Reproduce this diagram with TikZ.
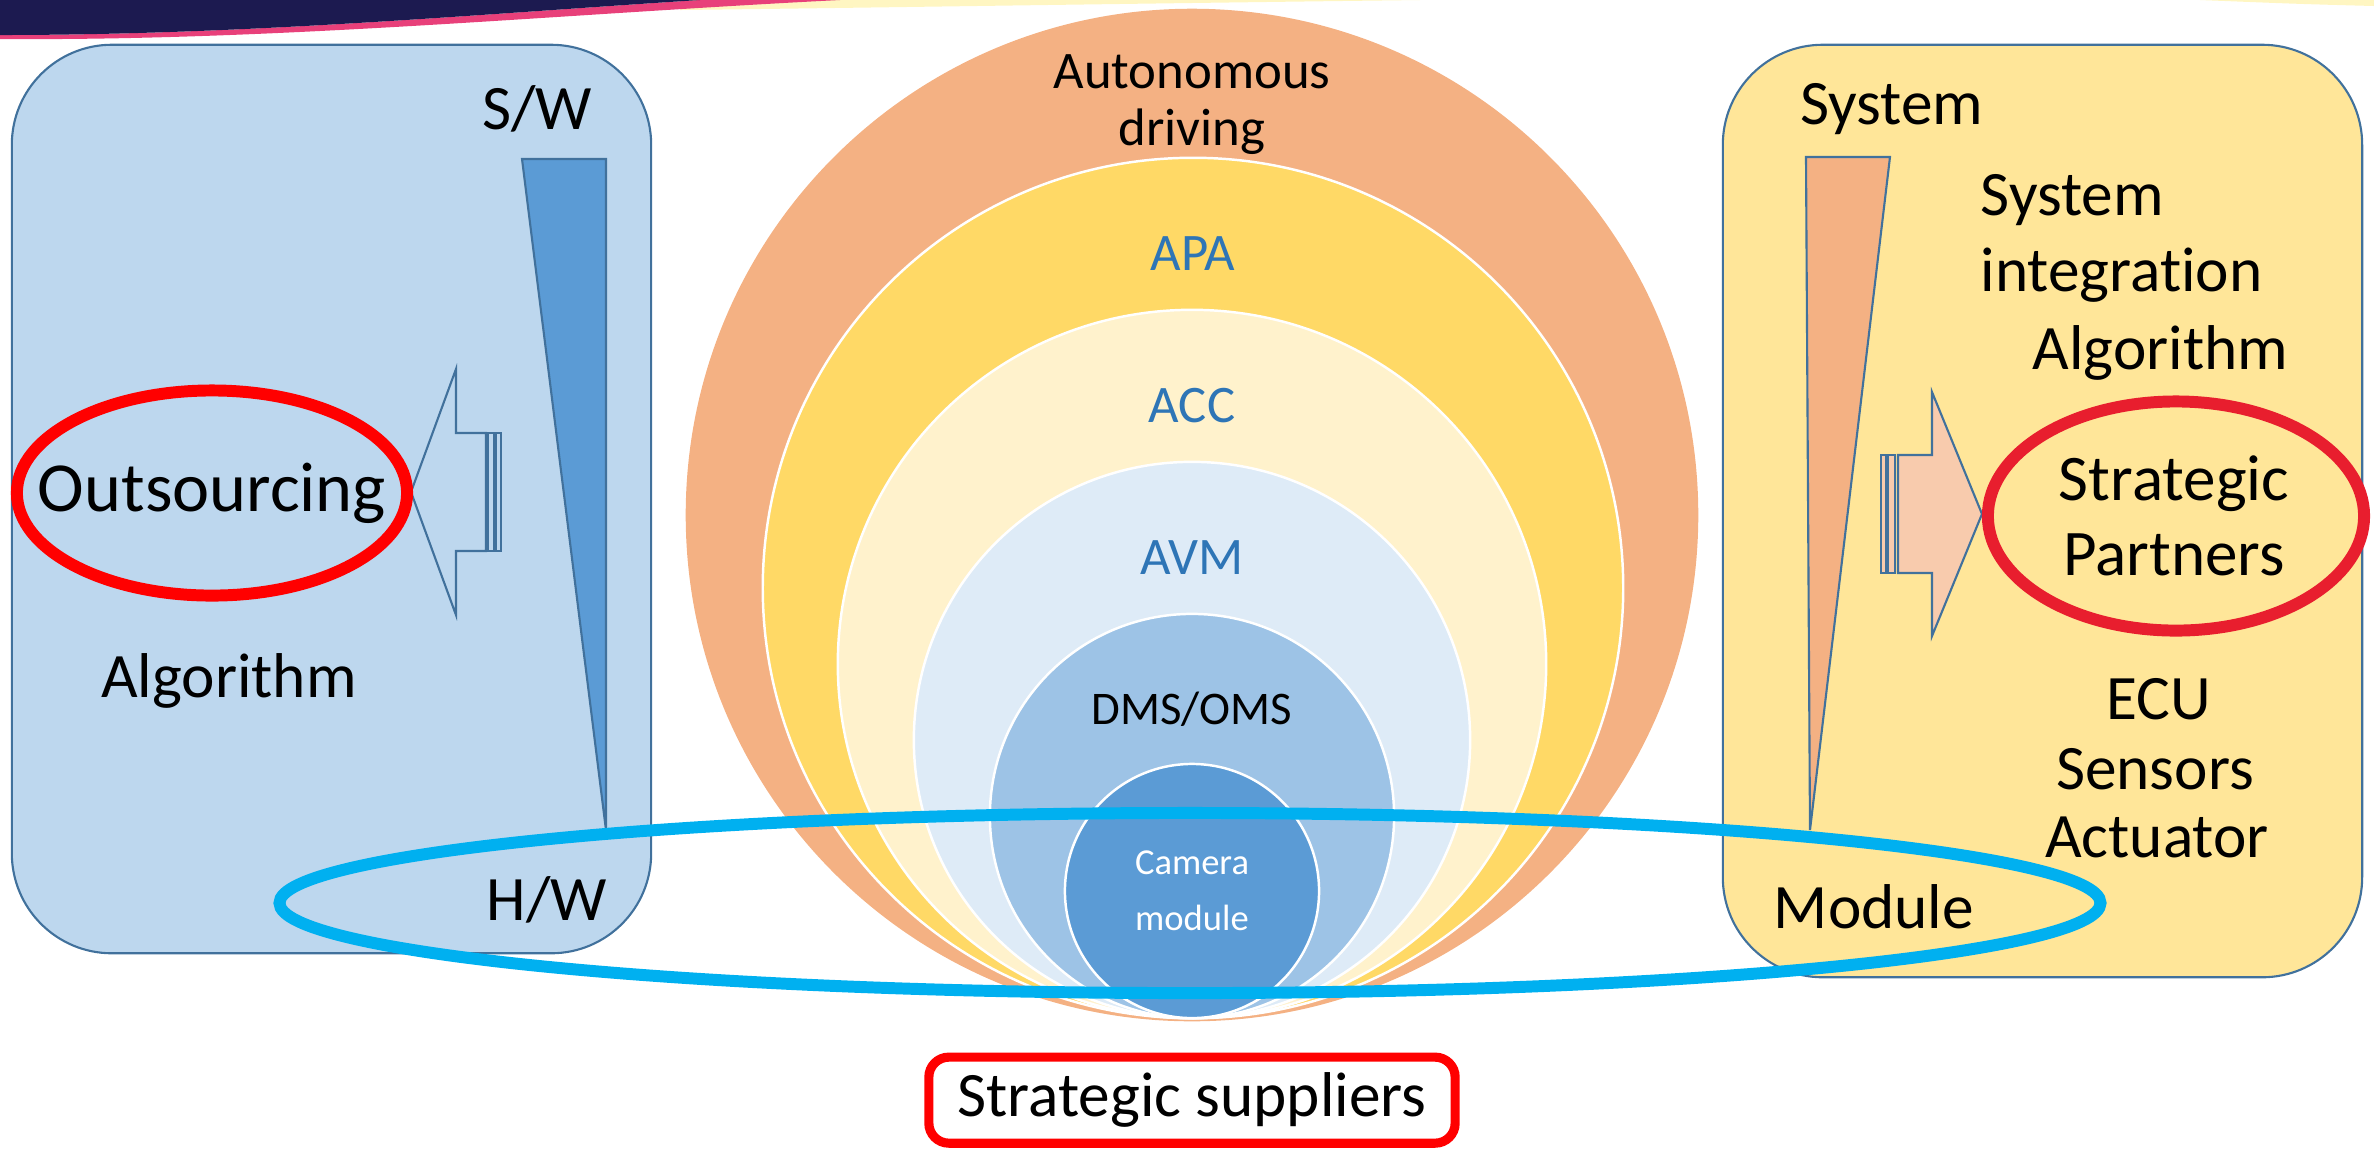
\documentclass[tikz,border=0pt]{standalone}
\usepackage{fontspec}
\setmainfont{Carlito}[Ligatures=NoCommon]
\usepackage{tikz}
\usetikzlibrary{positioning,shapes.geometric}
\definecolor{SlideNavy}{HTML}{1C1A50}
\definecolor{SlideRose}{HTML}{E8407A}
\definecolor{SlideGlow}{HTML}{FFF6C2}
\definecolor{PanelBlue}{HTML}{BDD7EE}
\definecolor{PanelGold}{HTML}{FFE699}
\definecolor{PanelEdge}{HTML}{41719C}
\definecolor{TriBlue}{HTML}{5B9BD5}
\definecolor{TriOrange}{HTML}{F4B183}
\definecolor{ArrowPeach}{HTML}{F8CBAD}
\definecolor{RingOrange}{HTML}{F4B183}
\definecolor{RingGold}{HTML}{FFD966}
\definecolor{RingCream}{HTML}{FFF2CC}
\definecolor{RingIce}{HTML}{DEEBF7}
\definecolor{RingSky}{HTML}{9DC3E6}
\definecolor{RingBlue}{HTML}{5B9BD5}
\definecolor{LabelBlue}{HTML}{2E75B6}
\definecolor{HWCyan}{HTML}{00B0F0}
\definecolor{MarkRed}{HTML}{FF0000}
\definecolor{PartnerRed}{HTML}{E81E2E}

\begin{document}
\begin{tikzpicture}[x=0.01cm, y=-0.01cm,
    panel/.style={draw=PanelEdge, line width=0.6pt, rounded corners=1cm, inner sep=0pt},
    wedge/.style={draw=PanelEdge, line width=0.6pt},
    ring/.style={circle, draw=white, line width=0.7pt, inner sep=0pt},
    big/.style={font=\fontsize{18}{21}\selectfont, inner sep=0pt, align=center},
    ringlbl/.style={font=\fontsize{15}{16}\selectfont, text=LabelBlue, inner sep=0pt, align=center},
    redoval/.style={ellipse, draw=MarkRed, line width=3.4pt, inner sep=0pt},
    hwloop/.style={ellipse, draw=HWCyan, line width=3.4pt, inner sep=0pt},
    supbox/.style={draw=MarkRed, fill=white, line width=2.6pt, rounded corners=0.2cm,
      minimum width=5.26cm, minimum height=0.86cm, big}
  ]
    \useasboundingbox (0,0) rectangle (2374,1150);
    % slide header swoosh
    \fill[SlideGlow] (680,0) -- (1420,0) .. controls (1100,4) and (850,8) .. (680,10) -- cycle;
    \fill[SlideGlow] (2200,0) -- (2374,0) -- (2374,6) .. controls (2300,4) .. (2200,0) -- cycle;
    \fill[SlideRose] (0,39) .. controls (280,41) and (560,14) .. (840,0) -- (700,0) .. controls (480,14) and (250,35) .. (0,35) -- cycle;
    \fill[SlideNavy] (0,0) -- (700,0) .. controls (480,14) and (250,35) .. (0,35) -- cycle;

    % left panel
    \node[panel, fill=PanelBlue, minimum width=6.39cm, minimum height=9.08cm] (swpanel) at (331.5,499) {};
    \draw[wedge, fill=TriBlue] (522,159) -- (606,159) -- (606,830) -- cycle;
    \node[big] (sw) at (537,109) {S/W};
    \node[big] (hw) at (547,900) {H/W};
    \node[big] (algoleft) at (229,681) {Algorithm};
    \draw[wedge, fill=PanelBlue] (411,492) -- (456,369) -- (456,433) -- (486,433) -- (486,551) -- (456,551) -- (456,615) -- cycle;
    \draw[wedge] (488,433) rectangle (494,551);
    \draw[wedge] (496,433) rectangle (501,551);
    \node[redoval, minimum width=3.9cm, minimum height=2.05cm] (outsrc) at (212,493) {};
    \node[big, font=\fontsize{20}{24}\selectfont] (outsrclbl) at (outsrc) {Outsourcing};

    % right panel
    \node[panel, fill=PanelGold, minimum width=6.39cm, minimum height=9.32cm] (syspanel) at (2042.5,511) {};
    \draw[wedge, fill=TriOrange] (1806,157) -- (1890,157) -- (1810,830) -- cycle;
    \node[big] (system) at (1892,109) {System};
    \node[big] (module) at (1874,907) {Module};
    \node[big, anchor=west] (sysint) at (1980,200) {System};
    \node[big, anchor=west] (integ) at (1980,275) {integration};
    \node[big, anchor=west] (algoright) at (2032,353) {Algorithm};
    \node[big] (ecu) at (2159,699) {ECU};
    \node[big] (sensors) at (2155,769) {Sensors};
    \node[big] (actuator) at (2157,837) {Actuator};
    \draw[wedge, fill=ArrowPeach] (1982,514) -- (1932,636) -- (1932,573) -- (1898,573) -- (1898,455) -- (1932,455) -- (1932,392) -- cycle;
    \draw[wedge, fill=ArrowPeach] (1881,455) rectangle (1886,573);
    \draw[wedge, fill=ArrowPeach] (1888,455) rectangle (1895,573);
    \node[redoval, draw=PartnerRed, minimum width=3.76cm, minimum height=2.29cm] (partners) at (2176,516) {};
    \node[big, font=\fontsize{18.5}{21.5}\selectfont] (partnerslbl) at ([xshift=-0.02cm]partners) {Strategic\\Partners};

    % nested application rings
    \node[ring, draw=none, fill=RingOrange, minimum size=10.12cm] (adrive) at (1192,515) {};
    \node[ring, fill=RingGold, minimum size=8.6cm] (apa) at (1193,588) {};
    \node[ring, fill=RingCream, minimum size=7.08cm] (acc) at (1192,664) {};
    \node[ring, fill=RingIce, minimum size=5.56cm] (avm) at (1192,740) {};
    \node[ring, fill=RingSky, minimum size=4.04cm] (dms) at (1192,816) {};
    \node[ring, fill=RingBlue, minimum size=2.54cm] (cam) at (1192,891) {};
    \node[ringlbl, text=black] (adlbl) at ([yshift=-0.97cm]adrive.north) {Autonomous\\driving};
    \node[ringlbl] (apalbl) at ([yshift=-0.97cm]apa.north) {APA};
    \node[ringlbl] (acclbl) at ([yshift=-0.97cm]acc.north) {ACC};
    \node[ringlbl] (avmlbl) at ([yshift=-0.97cm]avm.north) {AVM};
    \node[ringlbl, text=black, font=\fontsize{13.3}{15}\selectfont] (dmslbl) at ([yshift=-0.97cm]dms.north) {DMS/OMS};
    \node[ringlbl, text=white, font=\fontsize{10.4}{16}\selectfont] (camlbl) at (cam) {Camera\\module};

    \node[hwloop, minimum width=18.2cm, minimum height=1.8cm] (hwband) at (1190,903) {};
    \node[supbox, below=0.3cm of adrive] (suppliers) {Strategic suppliers};
  \end{tikzpicture}
\end{document}
